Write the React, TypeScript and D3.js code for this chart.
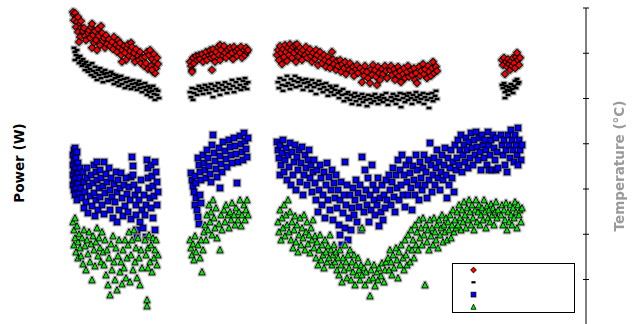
import * as d3 from "d3";

const WIDTH = 639;
const HEIGHT = 324;

// [time (min), temperature (°C)]
const tempRed: [number, number][] = [
  [3,89.1],[4,88.5],[5,88.9],[6,87.8],[4,87.3],[7,86.9],[8,88.0],[9,86.2],[6,85.8],[10,85.4],[8,84.7],[11,87.1],[12,84.3],[10,83.6],[13,84.9],[14,85.6],[9,82.5],[15,83.8],[16,82.9],[18,84.5],[19,85.1],[20,83.4],[21,85.8],[22,86.5],[23,84.0],[24,82.3],[22,81.2],[25,84.9],[26,82.9],[27,80.7],[28,85.4],[29,83.8],[30,81.8],[31,86.0],[32,84.5],[33,82.7],[34,83.4],[35,81.2],[36,84.0],[37,82.0],[39,83.1],[40,81.6],[42,82.5],[43,80.9],[44,83.6],[46,81.8],[47,80.3],[48,82.9],[49,81.4],[50,82.3],[51,79.6],[52,80.7],[54,81.6],[55,80.1],[56,78.5],[57,81.2],[58,82.0],[59,79.4],[60,80.5],[61,82.3],[62,81.4],[63,79.0],[64,80.1],[65,78.1],[66,80.9],[68,79.4],[69,78.5],[70,80.3],[71,77.8],[72,79.0],[74,77.2],[52,78.1],
  [75,79.2],[76,77.8],[77,80.3],[78,76.5],[79,79.6],[80,80.7],[81,77.2],[82,78.7],[83,75.9],[84,79.8],[85,78.1],[86,76.7],[87,79.0],[88,77.6],[85,75.6],[82,76.3],
  [120,78.1],[121,77.2],[122,76.3],[122,75.9],[123,79.0],[124,77.8],[126,79.4],[127,78.5],[129,79.6],[130,78.7],[132,79.8],[133,78.1],[135,79.2],[136,80.3],[137,78.5],[139,79.6],[140,80.7],[141,79.0],[142,79.8],[142,76.3],[143,80.9],[144,79.2],[145,78.1],[146,80.3],[148,81.4],[149,79.6],[150,78.5],[150,81.8],[151,80.7],[153,79.4],[154,81.6],[155,80.1],[156,79.0],[158,80.7],[159,79.6],[160,81.2],[162,80.1],[163,78.7],[164,81.4],[166,80.5],[167,79.4],[168,80.9],[170,80.1],[171,81.4],[172,79.0],[174,80.7],[175,79.6],[176,81.2],[177,80.3],[178,80.7],
  [207,79.6],[208,80.7],[209,78.5],[210,81.6],[211,80.1],[212,77.6],[213,80.9],[214,79.2],[215,81.8],[216,80.3],[217,78.3],[218,81.2],[219,79.6],[220,82.0],[221,80.7],[222,79.0],[223,81.4],[224,80.1],[225,81.8],[226,78.1],[227,82.0],[228,80.5],[229,79.4],[230,81.2],[231,80.1],[232,78.5],[233,80.7],[235,79.6],[236,81.4],[237,79.0],[238,80.3],[240,80.9],[241,79.4],[242,78.1],[243,80.1],[245,78.7],[246,80.7],[247,79.6],[248,77.4],[250,80.3],[251,79.0],[252,77.8],[254,79.6],[255,78.5],[256,77.0],[258,79.2],[259,78.1],[260,76.7],[262,80.3],[263,78.7],[264,77.6],[266,76.3],[267,78.3],[268,77.2],[270,78.5],[271,75.9],[272,77.6],[274,76.7],[275,78.1],[276,75.4],[278,77.2],[279,76.3],[280,77.8],[282,75.9],[283,77.0],[284,75.0],[286,76.5],[287,77.4],[288,75.6],[290,76.7],[292,73.6],[293,76.1],[294,75.0],[295,77.2],[297,75.9],[298,74.5],[300,73.4],[301,76.5],[302,75.2],[303,77.4],[305,76.3],[306,74.8],[307,73.0],[308,77.0],[309,75.6],[310,74.1],[312,76.5],[313,75.4],[315,77.2],[316,76.1],[317,74.5],
  [320,76.3],[321,77.2],[322,75.2],[324,76.5],[325,74.1],[326,75.6],[328,77.0],[329,75.0],[330,76.1],[331,73.6],[333,75.4],[334,76.7],[335,74.5],[337,75.9],[338,77.2],[339,74.8],[341,76.3],[342,75.2],[344,76.7],[345,74.1],[346,75.6],[347,73.4],[349,77.0],[350,75.0],[351,76.1],[353,77.6],[354,75.4],[355,76.5],[357,74.5],[358,77.2],[359,75.9],[361,75.0],[362,76.7],[363,78.1],[364,75.6],[366,77.0],[367,76.1],
  [432,78.5],[433,77.4],[434,79.0],[435,75.4],[436,78.1],[437,77.0],[438,78.7],[439,77.6],[440,76.3],[441,78.3],[442,77.2],[443,79.0],[444,77.8],[445,76.7],[446,79.2],[447,80.1],[448,78.5],[449,77.4],[450,79.0],
];

const tempBlack: [number, number][] = [
  [4,81.2],[5,80.3],[6,79.6],[5,78.5],[7,80.7],[8,79.0],[9,77.8],[10,79.4],[11,78.3],[12,77.2],[13,78.7],[14,77.6],[15,76.3],[16,78.1],[17,77.0],[18,75.9],[19,77.4],[20,76.5],[21,75.2],[22,77.8],[23,76.1],[24,74.8],[25,77.0],[26,75.6],[27,74.1],[28,76.3],[29,75.2],[30,76.7],[31,74.5],[32,75.9],[33,73.6],[34,75.4],[35,76.3],[36,74.8],[37,75.6],[38,73.9],[40,75.0],[41,75.9],[42,74.1],[43,75.4],[44,73.2],[45,74.5],[46,75.2],[47,73.6],[48,74.8],[49,72.8],[50,74.1],[51,75.0],[52,73.2],[54,74.3],[55,72.3],[56,73.6],[57,74.5],[58,72.8],[60,73.9],[61,72.1],[62,73.2],[63,74.1],[64,72.5],[66,73.4],[67,71.9],[68,73.0],[69,73.9],[70,72.3],[71,73.2],[72,71.4],[74,72.5],[75,73.4],[76,71.9],[77,70.8],[78,72.8],[79,71.4],[80,72.3],[81,70.3],[82,71.7],[83,72.8],[84,71.0],[85,69.7],[86,72.1],[87,70.8],[88,71.7],[89,70.1],
  [120,71.4],[121,70.3],[122,72.3],[123,69.7],[124,71.2],[126,72.1],[127,70.8],[129,72.8],[130,71.7],[132,72.3],[133,71.0],[135,73.0],[136,71.9],[138,72.5],[139,71.2],[141,73.2],[142,72.1],[143,70.3],[145,72.8],[146,71.7],[148,73.4],[149,72.3],[150,70.8],[152,73.0],[153,71.9],[155,73.6],[156,72.5],[157,71.2],[159,73.2],[160,72.1],[162,74.1],[163,72.8],[164,71.4],[166,73.6],[167,72.3],[169,74.3],[170,73.0],[171,71.9],[173,73.9],[174,72.5],[175,74.5],[176,73.2],[177,72.1],[178,73.6],
  [208,73.6],[209,72.3],[210,74.5],[212,73.0],[213,71.7],[214,74.1],[216,72.8],[217,75.0],[218,73.4],[220,72.1],[221,74.3],[222,73.0],[224,73.9],[225,75.0],[226,72.5],[228,73.6],[229,74.5],[230,72.8],[232,74.1],[233,71.9],[234,73.4],[236,74.3],[237,72.5],[238,73.6],[240,73.0],[241,71.7],[242,74.1],[244,72.5],[245,73.4],[246,71.0],[248,73.0],[249,73.9],[250,72.1],[252,73.2],[253,71.4],[254,72.5],[256,73.4],[257,71.9],[258,70.6],[260,72.8],[261,71.4],[262,72.3],[264,70.8],[265,71.9],[266,72.8],[268,71.2],[269,70.1],[270,71.7],[272,70.8],[273,72.1],[274,69.4],[276,71.0],[277,70.1],[278,71.4],[280,69.7],[281,70.8],[282,68.8],[284,70.3],[285,71.2],[286,69.4],[288,70.6],[289,68.6],[290,69.9],[292,71.0],[293,69.2],[294,70.3],[296,69.7],[297,68.3],[298,70.8],[300,69.9],[301,69.0],[302,70.6],[304,69.4],[305,71.0],[306,70.1],[308,68.8],[309,70.3],[310,69.7],[312,70.8],[313,69.2],[314,70.1],[316,71.2],[317,69.7],[318,68.6],
  [321,70.3],[322,69.4],[323,71.0],[325,69.9],[326,68.8],[327,70.6],[329,69.7],[330,71.2],[331,68.1],[333,70.1],[334,71.0],[335,69.2],[337,70.6],[338,69.7],[339,71.2],[341,70.1],[342,68.8],[343,70.8],[345,69.7],[346,71.4],[347,70.3],[349,69.2],[350,70.8],[351,69.9],[353,71.2],[354,68.8],[355,70.3],[357,69.7],[358,71.0],[359,67.9],[361,70.1],[362,71.2],[363,69.4],[365,70.6],[366,71.7],[367,69.9],
  [432,73.0],[433,72.3],[434,73.4],[435,71.4],[436,72.8],[437,71.9],[438,70.8],[439,72.5],[440,71.7],[441,73.2],[442,72.1],[443,71.2],[444,72.8],[445,73.9],[446,72.3],[447,74.3],[448,73.2],[449,73.6],[435,70.1],
];

// [time (min), power (W)]
const powerBlue: [number, number][] = [
  [3,165],[3,155],[3,145],[3,135],[4,170],[4,160],[4,150],[4,140],[4,130],[5,172],[5,125],[6,162],[6,152],[6,142],[6,132],[7,168],[7,120],[8,157],[8,147],[8,137],[9,127],[10,152],[10,142],
  [11,132],[12,122],[13,148],[14,138],[14,112],[15,128],[16,118],[17,152],[17,142],[18,107],[19,134],[20,124],[21,145],[22,114],[23,137],[24,155],[24,127],[25,104],[26,148],[26,120],[27,140],[27,158],
  [28,110],[29,132],[30,150],[30,123],[31,142],[32,115],[33,134],[34,158],[34,106],[35,127],[36,146],[37,138],[38,119],[39,152],[40,130],[40,110],[41,142],[42,123],[43,102],
  [44,136],[45,118],[46,148],[47,128],[47,98],[48,140],[49,110],[50,132],[51,147],[52,122],[53,104],[54,135],[55,114],[56,142],[57,126],[58,108],[59,133],[60,120],[61,143],[61,101],
  [62,163],[63,154],[63,145],[64,135],[65,125],[66,115],[66,105],[67,90],[67,83],[68,130],[69,120],[70,98],[71,140],[72,110],[73,92],[74,125],[75,105],[76,83],[76,115],
  [77,160],[78,152],[78,142],[79,132],[80,122],[81,155],[81,112],[82,144],[83,134],[83,102],[84,124],[85,158],[85,90],[86,148],[87,115],[87,138],[88,128],
  [121,147],[122,140],[123,134],[125,144],[126,137],[124,128],[126,122],[125,115],[127,110],[128,103],[129,96],[130,125],[131,117],[128,162],[129,155],[130,148],[131,140],[133,165],[134,157],[135,150],[136,142],[137,170],[138,162],[139,154],[140,146],[141,138],[142,175],[143,185],[144,167],[145,159],[146,151],[147,143],[149,172],[150,132],[150,164],[151,156],[152,148],[153,178],[155,169],[156,161],[157,153],[159,180],[160,173],[161,165],[162,157],[164,182],[165,174],[166,166],[167,137],[168,158],[170,184],[171,176],[172,168],[173,160],[174,187],[175,179],[176,171],[177,163],[178,182],
  [207,178],[208,170],[209,162],[210,175],[210,145],[211,155],[212,167],[213,180],[214,148],[215,160],[216,172],[217,140],[218,165],[219,153],[220,177],[221,135],[222,168],[223,145],[224,158],[225,175],[226,130],[227,163],[228,150],[229,170],[230,138],[231,157],[232,173],[233,125],[234,145],[235,165],[236,152],[237,135],[238,160],[239,170],[240,142],[241,155],[242,128],[243,148],
  [244,160],[245,137],[246,120],[247,150],[248,108],[249,130],[250,155],[251,142],[252,115],[253,125],[254,148],[255,102],[256,135],[257,157],[258,120],[259,143],[260,110],[261,130],[262,150],[263,100],[264,137],[265,122],[266,145],[267,112],
  [268,130],[269,95],[270,120],[270,85],[271,138],[272,75],[273,107],[274,125],[275,158],[275,92],[276,115],[277,135],[278,80],[279,102],[280,125],[281,90],[282,112],
  [283,132],[284,105],[285,120],[286,140],[287,98],[288,127],[289,113],[290,135],[291,90],[292,163],[293,122],[294,108],[295,150],[296,130],[297,115],[298,142],[299,98],[300,125],[301,110],[302,155],[303,135],[304,120],[305,105],[306,130],[307,115],[308,142],[309,94],[310,122],[311,108],[312,135],[313,100],[314,125],[315,112],[316,140],[317,120],
  [319,145],[320,130],[321,115],[322,138],[323,152],[324,123],[325,108],[326,145],[327,132],[328,160],[329,120],[330,150],[331,135],[332,165],[333,125],[334,145],[335,113],[336,155],[337,138],[338,125],[339,160],[340,147],[341,132],[342,110],[343,154],[344,140],[345,125],[346,165],[347,150],[348,135],[349,120],[350,158],[351,142],[352,130],[353,152],
  [354,165],[355,135],[356,148],[357,122],[358,160],[359,140],[360,177],[361,155],[362,128],[363,145],[364,162],[365,135],[366,152],[367,170],[368,142],[369,158],[370,130],[371,148],[372,165],[373,140],[374,155],[375,172],[376,145],[377,122],[378,162],[379,135],[380,152],[381,170],[382,142],[383,158],[384,128],[385,175],[386,150],[387,162],
  [388,180],[389,155],[390,170],[391,185],[392,148],[393,165],[394,175],[395,158],[396,182],[397,170],[398,152],[399,178],[400,162],[401,187],[402,172],[403,155],[404,180],[405,165],[406,188],[407,173],[408,160],[409,182],[410,168],[411,150],[412,185],[413,175],[414,162],[415,180],[416,170],[417,155],[418,188],[419,175],[419,150],[420,165],[421,180],[422,150],[423,185],[424,172],[425,160],[426,182],[426,150],[427,168],[428,152],
  [431,185],[432,175],[433,165],[434,180],[435,155],[436,170],[437,148],[438,185],[439,175],[440,162],[441,190],[442,180],[443,170],[444,158],[445,185],[446,175],[447,165],[448,192],[449,180],[450,170],[451,160],[452,175],[448,155],
];

const powerGreen: [number, number][] = [
  [3,98],[4,90],[4,75],[5,102],[5,82],[6,68],[7,94],[8,78],[8,62],[9,86],[10,72],
  [11,64],[12,82],[13,56],[14,90],[15,74],[16,50],[17,80],[18,66],[19,88],[20,58],[21,76],[22,40],[23,84],[24,70],[25,54],[26,78],[27,92],[28,64],[29,82],[30,72],[31,58],[32,88],[33,68],
  [34,55],[35,80],[36,45],[37,70],[38,35],[39,62],[40,25],[41,76],[42,50],[43,84],[44,58],[45,40],[46,72],[47,30],[48,64],[49,80],[50,48],[51,58],[52,36],[53,70],[54,52],[55,80],[56,42],[57,62],
  [58,75],[59,88],[60,38],[61,65],[62,80],[63,50],[64,90],[65,58],[66,72],[67,42],[68,82],[69,62],[70,35],[71,70],[72,52],
  [75,80],[76,65],[77,20],[77,14],[78,72],[78,52],[79,85],[80,58],[81,75],[82,48],[83,82],[84,62],[85,70],[86,80],[87,55],[88,65],
  [120,80],[121,72],[122,65],[123,76],[124,60],[125,84],[126,68],[128,75],[130,62],[131,80],[132,48],[133,70],[134,88],[135,95],[136,80],[137,105],[138,90],[139,115],[140,98],[141,108],[142,85],[143,120],[144,102],[145,92],[146,112],[147,82],[149,96],[150,70],[151,105],[152,90],[154,110],[155,98],[156,115],[158,105],[159,92],[160,108],[161,100],[162,117],[164,105],[165,95],[166,112],[168,100],[169,108],[170,120],[171,94],[172,105],[174,115],[175,100],[176,110],[177,120],[178,105],
  [208,98],[209,88],[210,110],[211,80],[212,102],[213,92],[214,115],[215,84],[216,105],[217,95],[218,120],[219,88],[220,108],
  [221,80],[222,98],[223,72],[224,90],[225,104],[226,78],[227,95],[228,68],[229,85],[230,102],[231,75],[232,92],[233,82],[234,105],[235,70],[236,88],[237,98],[238,76],[239,85],[240,67],[241,92],[242,80],[243,100],
  [244,72],[245,84],[246,62],[247,78],[248,55],[249,70],[250,85],[251,60],[252,75],[253,65],[254,52],[255,80],[256,68],[257,58],[258,74],[259,62],[260,85],[261,70],[262,55],[263,65],[264,75],[265,58],[266,68],[267,50],
  [268,62],[269,45],[270,70],[271,55],[272,38],[273,62],[274,50],[275,75],[276,58],[277,42],[278,65],[279,52],[280,70],[281,40],[282,58],[283,48],[284,65],[285,35],[286,55],[287,45],[288,62],[289,50],[290,40],
  [291,55],[292,45],[292,92],[294,52],[295,35],[296,48],[298,58],[299,40],[300,24],[301,50],[303,42],[304,55],[305,34],[307,48],[308,40],[309,52],[311,44],[312,57],[314,38],[315,50],[316,58],
  [318,62],[319,50],[320,70],[321,58],[322,45],[323,65],[324,52],[326,72],[327,60],[328,42],[329,68],[330,55],[331,75],[333,62],[334,50],[335,80],[336,65],[337,55],[338,85],[339,72],[340,58],[341,90],[342,70],[343,80],[344,62],[345,95],[346,75],[347,88],
  [348,70],[349,100],[350,82],[351,92],[352,75],[353,102],[354,85],[355,35],[356,95],[357,78],[358,90],[359,70],[360,100],[361,84],[362,92],[363,75],[364,102],[365,88],[366,80],[367,95],[368,72],[369,100],[370,85],[371,92],[372,105],[373,78],[374,95],[375,88],[376,102],[377,80],[378,98],[379,90],[380,105],[381,82],[382,95],[383,110],[384,88],[385,100],[386,92],[387,108],
  [388,95],[389,115],[390,102],[391,90],[392,110],[393,98],[394,118],[395,105],[396,92],[397,112],[398,100],[399,120],[400,108],[401,95],[402,115],[403,102],[404,90],[405,110],[406,120],[407,98],[408,108],[409,115],[410,95],[411,105],[412,112],[413,100],[414,120],[415,108],[416,92],[417,114],[418,102],[419,110],[420,98],[421,116],[422,105],[423,112],[424,95],[425,108],[426,118],[427,102],[428,110],
  [431,105],[432,115],[433,95],[434,110],[435,100],[436,117],[437,90],[438,108],[439,98],[440,115],[441,105],[442,95],[443,112],[444,102],[445,118],[446,108],[447,92],[448,115],[449,105],[450,110],[451,98],[452,112],
];

const timeScale = d3.scaleLinear().domain([0, 460]).range([70, 530]);
const powerScale = d3.scaleLinear().domain([0, 320]).range([320, 0]);
const tempScale = d3.scaleLinear().domain([20, 90]).range([324.75, 8]);

const AXIS_X = 586;

// marker shapes
const diamond = "M0,-3.6L3.6,0L0,3.6L-3.6,0Z";
const triangle = "M0,-3.4L3.1,3L-3.1,3Z";

const Marker = ({ kind }: { kind: string }) => {
  if (kind === "red") return <path d={diamond} fill="#ff0000" stroke="#000" strokeWidth={1.1} />;
  if (kind === "black") return <rect x={-2.6} y={-1.4} width={5.2} height={2.8} fill="#000" />;
  if (kind === "blue") return <rect x={-3} y={-3} width={6} height={6} fill="#0000ff" stroke="#000" strokeWidth={1} />;
  return <path d={triangle} fill="#00f000" stroke="#000" strokeWidth={1} />;
};

export default function App() {
  const tempTicks = tempScale.ticks(7);

  const series: { key: string; data: [number, number][]; y: d3.ScaleLinear<number, number> }[] = [
    { key: "red", data: tempRed, y: tempScale },
    { key: "black", data: tempBlack, y: tempScale },
    { key: "blue", data: powerBlue, y: powerScale },
    { key: "green", data: powerGreen, y: powerScale },
  ];

  return (
    <svg width={WIDTH} height={HEIGHT} style={{ position: "absolute", left: 0, top: 0, background: "#fff" }}>
      <defs>
        <filter id="soft">
          <feGaussianBlur stdDeviation="0.6" />
        </filter>
        <filter id="halo" x="-5%" y="-5%" width="110%" height="110%">
          <feMorphology in="SourceAlpha" operator="dilate" radius="1" result="fat" />
          <feGaussianBlur in="fat" stdDeviation="0.6" result="blur" />
          <feFlood floodColor="#999" floodOpacity="0.7" />
          <feComposite in2="blur" operator="in" result="shadow" />
          <feMerge>
            <feMergeNode in="shadow" />
            <feMergeNode in="SourceGraphic" />
          </feMerge>
        </filter>
      </defs>

      {series.map((s) => (
        <g key={s.key} filter="url(#halo)">
          {s.data.map(([t, v], i) => (
            <g key={i} transform={`translate(${timeScale(t)},${s.y(v)})`}>
              <Marker kind={s.key} />
            </g>
          ))}
        </g>
      ))}

      {/* right temperature axis */}
      <line x1={AXIS_X} x2={AXIS_X} y1={tempScale(90)} y2={HEIGHT} stroke="#000" strokeWidth={1} />
      {tempTicks.map((d) => (
        <line key={d} x1={AXIS_X - 3} x2={AXIS_X + 3} y1={tempScale(d)} y2={tempScale(d)} stroke="#000" strokeWidth={1} />
      ))}

      <text
        transform="translate(20,163) rotate(-90)"
        textAnchor="middle"
        dominantBaseline="middle"
        fontFamily="DejaVu Sans"
        fontWeight="bold"
        fontSize={13.5}
        fill="#000"
      >
        Power (W)
      </text>
      <text
        transform="translate(620,166) rotate(-90)"
        textAnchor="middle"
        dominantBaseline="middle"
        fontFamily="DejaVu Sans"
        fontWeight="bold"
        fontSize={13.5}
        fill="#9a9a9a"
        filter="url(#soft)"
      >
        Temperature (°C)
      </text>

      {/* legend */}
      <g transform="translate(452,263)">
        <rect x={0.5} y={0.5} width={122} height={49} fill="#fff" stroke="#000" strokeWidth={1} />
        {series.map((s, i) => (
          <g key={s.key} transform={`translate(21.5,${7 + i * 12.3}) scale(0.8)`}>
            <Marker kind={s.key} />
          </g>
        ))}
      </g>
    </svg>
  );
}
